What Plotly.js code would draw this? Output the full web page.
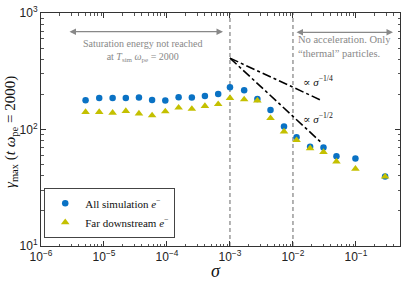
<!DOCTYPE html>
<html>
<head>
<meta charset="utf-8">
<script src="https://cdn.plot.ly/plotly-3.0.1.min.js"></script>
<style>html,body{margin:0;padding:0;background:#fff;}#chart{width:407px;height:281px;}</style>
</head>
<body>
<div id="chart"></div>
<script>
// sigma values (x) and gamma_max values
const sigma = [5.1e-6, 8.4e-6, 1.37e-5, 2.22e-5, 3.59e-5, 5.8e-5, 9.4e-5, 1.53e-4, 2.48e-4, 4.0e-4, 6.5e-4,
               1.0e-3, 1.68e-3, 2.72e-3, 4.4e-3, 7.2e-3, 1.14e-2, 1.87e-2, 3.05e-2, 4.9e-2, 9.8e-2, 0.29];
const gammaAll = [178, 186, 186, 186, 188, 179, 177, 189, 188, 194, 202,
                  230, 217, 183, 147, 106, 86, 71, 70, 59, 56.5, 39.4];
const gammaFar = [141, 141, 139, 144, 137, 132, 143, 154, 150, 159, 165,
                  186, 181, 177, 125, 96, 81, 69, 64, 53, 46, 39.4];

// tick labels
const xTickVals = [1e-6, 1e-5, 1e-4, 1e-3, 1e-2, 1e-1];
const xTickText = ['10<sup>−6</sup>', '10<sup>−5</sup>', '10<sup>−4</sup>', '10<sup>−3</sup>', '10<sup>−2</sup>', '10<sup>−1</sup>'];
const yTickVals = [10, 100, 1000];
const yTickText = ['10<sup>1</sup>', '10<sup>2</sup>', '10<sup>3</sup>'];

// reference lines
const vlines = [1e-3, 1e-2];
const refStart = 1e-3, refEnd = 0.028, refY0 = 410;
const slopes = [-0.25, -0.5];

// minor tick positions (2..9 within each decade)
function minorTicks(lo, hi) {
  const out = [];
  for (let d = lo; d < hi; d++) for (let m = 2; m <= 9; m++) out.push(m * Math.pow(10, d));
  return out;
}
const xMinor = minorTicks(-6, 0).filter(v => v <= 0.5);
const yMinor = minorTicks(1, 3);

const traces = [];
vlines.forEach(v => traces.push({
  x: [v, v], y: [10, 1000], mode: 'lines', showlegend: false, hoverinfo: 'skip',
  line: {color: '#666', width: 1, dash: '4px,3px'}
}));
slopes.forEach(s => traces.push({
  x: [refStart, refEnd], y: [refY0, refY0 * Math.pow(refEnd / refStart, s)],
  mode: 'lines', showlegend: false, hoverinfo: 'skip',
  line: {color: '#000', width: 1.6, dash: 'dashdot'}
}));
traces.push({
  x: sigma, y: gammaAll, mode: 'markers', name: 'All simulation <i>e</i><sup>−</sup>',
  marker: {symbol: 'circle', size: 6.5, color: '#0a72c4'}
});
traces.push({
  x: sigma, y: gammaFar, mode: 'markers', name: 'Far downstream <i>e</i><sup>−</sup>',
  marker: {symbol: 'triangle-up', size: 7.5, color: '#c4c000'}
});

const serif = 'Liberation Serif, DejaVu Serif, serif';
const axisCommon = {
  type: 'log', tickmode: 'array',
  ticks: 'inside', ticklen: 5, tickcolor: '#333', mirror: 'allticks',
  showline: true, linecolor: '#333', linewidth: 1, showgrid: false, zeroline: false,
  tickfont: {family: 'Liberation Sans, Arial, sans-serif', size: 12, color: '#222'}
};

const layout = {
  width: 407, height: 281,
  margin: {l: 41, r: 7, t: 13, b: 35},
  paper_bgcolor: '#fff', plot_bgcolor: '#fff',
  showlegend: true,
  legend: {
    x: 0.009, y: 0.035, xanchor: 'left', yanchor: 'bottom',
    bgcolor: '#fff', bordercolor: '#444', borderwidth: 1,
    font: {family: serif, size: 11, color: '#111'},
    itemwidth: 30, tracegroupgap: 0
  },
  xaxis: Object.assign({}, axisCommon, {
    range: [-6, Math.log10(0.5)], tickvals: xTickVals, ticktext: xTickText,
    minor: {tickmode: 'array', tickvals: xMinor, ticks: 'inside', ticklen: 2.5, tickcolor: '#555', showgrid: false}
  }),
  yaxis: Object.assign({}, axisCommon, {
    range: [1, 3], tickvals: yTickVals, ticktext: yTickText,
    minor: {tickmode: 'array', tickvals: yMinor, ticks: 'inside', ticklen: 2.5, tickcolor: '#555', showgrid: false}
  }),
  annotations: [
    {xref: 'paper', yref: 'paper', x: (216 - 41) / 359, y: (246 - 270.5) / 233, xanchor: 'center', yanchor: 'middle',
     showarrow: false, text: '<i>σ</i>', font: {family: serif, size: 18, color: '#111'}},
    {xref: 'paper', yref: 'paper', x: (11 - 41) / 359, y: (246 - 132) / 233, xanchor: 'center', yanchor: 'middle',
     showarrow: false, textangle: -90,
     text: '<i>γ</i><sub>max</sub> (<i>t</i> <i>ω</i><sub>pe</sub> = 2000)', font: {family: serif, size: 15, color: '#111'}},
    {xref: 'paper', yref: 'paper', x: (223 - 41) / 359, y: (246 - 31.7) / 233, ax: -155, ay: 0,
     axref: 'pixel', ayref: 'pixel', showarrow: true, arrowhead: 2, arrowside: 'end+start',
     arrowsize: 1, arrowwidth: 1.3, arrowcolor: '#888', text: ''},
    {xref: 'paper', yref: 'paper', x: (393 - 41) / 359, y: (246 - 32.3) / 233, ax: -98, ay: 0,
     axref: 'pixel', ayref: 'pixel', showarrow: true, arrowhead: 2, arrowside: 'end+start',
     arrowsize: 1, arrowwidth: 1.3, arrowcolor: '#888', text: ''},
    {xref: 'paper', yref: 'paper', x: (143 - 41) / 359, y: (246 - 50.5) / 233, xanchor: 'center', yanchor: 'middle',
     showarrow: false, align: 'center',
     text: 'Saturation energy not reached<br>at <i>T</i><sub>sim</sub> <i>ω</i><sub>pe</sub> = 2000',
     font: {family: serif, size: 10, color: '#888'}},
    {xref: 'paper', yref: 'paper', x: (296 - 41) / 359, y: (246 - 47) / 233, xanchor: 'left', yanchor: 'middle',
     showarrow: false, align: 'left',
     text: 'No acceleration. Only<br>“thermal” particles.',
     font: {family: serif, size: 10.5, color: '#888'}},
    {xref: 'paper', yref: 'paper', x: (301 - 41) / 359, y: (246 - 81) / 233, xanchor: 'left', yanchor: 'middle',
     showarrow: false, text: '∝ <i>σ</i><sup>−1/4</sup>', font: {family: serif, size: 11, color: '#111'}},
    {xref: 'paper', yref: 'paper', x: (301 - 41) / 359, y: (246 - 118) / 233, xanchor: 'left', yanchor: 'middle',
     showarrow: false, text: '∝ <i>σ</i><sup>−1/2</sup>', font: {family: serif, size: 11, color: '#111'}}
  ]
};

Plotly.newPlot('chart', traces, layout, {displayModeBar: false, staticPlot: true});
</script>
</body>
</html>
